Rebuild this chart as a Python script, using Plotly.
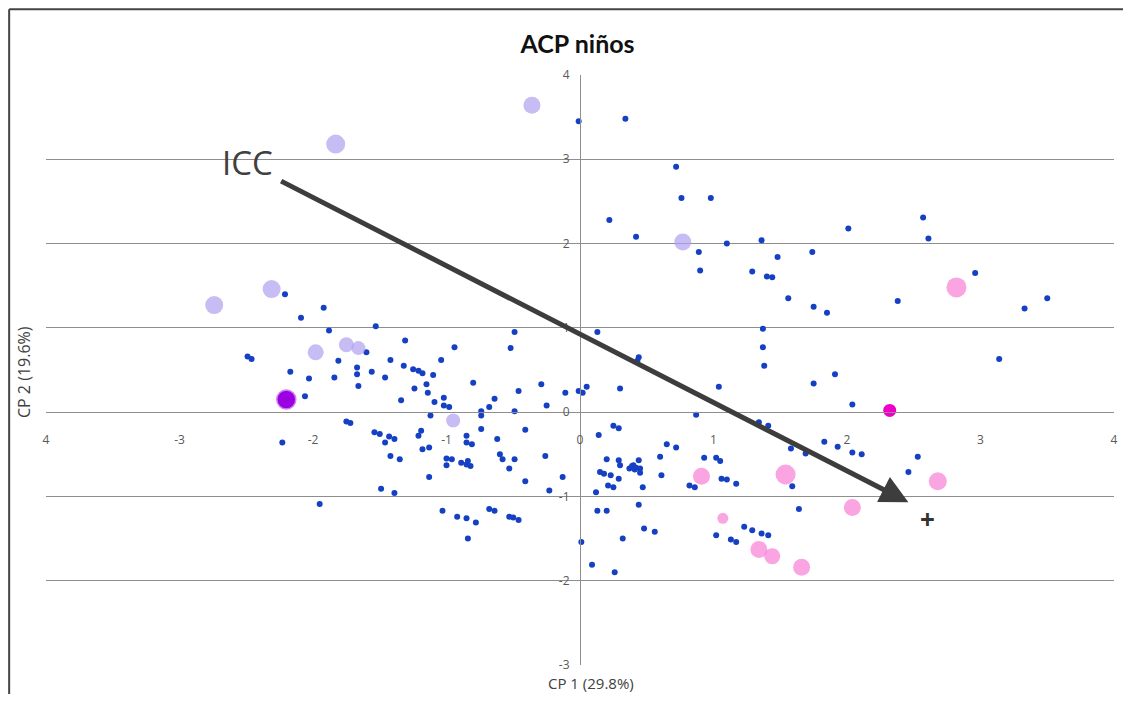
import plotly.graph_objects as go

# ---------------- data ----------------
blue_x = [-0.01, 0.34, 0.72, 0.76, 0.98, 0.22, 0.42, 0.89, 0.90, 1.10, 1.36, 1.29, 1.40, 1.44, 1.48, 1.74, 2.01, 1.56, 1.75, 1.85,
          2.38, 2.57, 2.61, 2.96, 3.33, 3.50, 1.37, 1.37, 0.13, 0.44, 0.43, 3.14,
          -2.21, -1.92, -2.09, -1.88, -1.53, -1.31, -0.94, -0.52, -0.49, -2.49, -2.46, -1.60, -2.17, -1.81, -2.03, -1.84,
          -1.67, -1.67, -1.56, -1.66, -1.42, -1.46, -1.32, -2.06, -1.34, -1.24, -1.04, -1.25, -1.21, -1.18, -1.10, -0.80,
          -1.15, -1.14, -0.29, -0.46, -0.11, -0.01, 0.02, 0.05, -1.09, -1.02, -1.02, -0.98, -0.64, -0.68, -0.74, -0.74,
          -0.49, -0.25, -1.12,
          -1.75, -1.72, -1.54, -1.50, -1.43, -1.39, -1.46, -1.42, -1.35, -1.49, -1.39, -1.95, -2.23, -1.19, -1.21, -1.18,
          -1.13, -0.85, -0.85, -0.81, -0.74, -0.62, -0.41, -1.00, -0.96, -1.00, -0.89, -0.85, -0.84, -0.82, -0.60, -0.58,
          -0.49, -0.53, -0.26, -1.13, -0.41, -0.13, -0.23, -1.03, -0.92, -0.85, -0.78, -0.68, -0.64, -0.53, -0.50, -0.46,
          -0.84,
          0.01, 0.30, 1.04, 0.87, 0.25, 0.29, 0.14, 0.65, 0.72, 0.20, 0.29, 0.30, 0.44, 0.60, 0.93, 1.02, 1.05, 0.15,
          0.18, 0.23, 0.29, 0.39, 0.40, 0.42, 0.37, 0.41, 0.45, 0.45, 0.61, 0.82, 0.86, 0.21, 0.25, 0.47, 0.12, 0.13,
          0.20, 0.44, 0.48, 0.56, 0.32, 0.09, 0.26, 1.02, 1.38, 1.75, 1.91, 2.04, 1.34, 1.41, 1.83, 1.93, 1.58, 1.69,
          2.04, 2.11, 1.06, 1.10, 1.17, 1.59, 2.46, 1.64, 1.23, 1.29, 1.36, 1.41, 1.13, 1.17, 2.53]
blue_y = [3.45, 3.48, 2.91, 2.54, 2.54, 2.28, 2.08, 1.90, 1.68, 2.00, 2.04, 1.67, 1.61, 1.60, 1.84, 1.90, 2.18, 1.35, 1.25, 1.18,
          1.32, 2.31, 2.06, 1.65, 1.23, 1.35, 0.99, 0.77, 0.95, 0.65, 0.61, 0.63,
          1.40, 1.24, 1.12, 0.97, 1.02, 0.85, 0.77, 0.76, 0.95, 0.66, 0.63, 0.71, 0.48, 0.61, 0.40, 0.41,
          0.53, 0.45, 0.48, 0.31, 0.62, 0.41, 0.55, 0.19, 0.14, 0.28, 0.62, 0.51, 0.49, 0.46, 0.44, 0.35,
          0.33, 0.23, 0.33, 0.25, 0.23, 0.25, 0.23, 0.30, 0.12, 0.17, 0.08, 0.06, 0.16, 0.06, 0.01, -0.04,
          0.01, 0.08, -0.04,
          -0.11, -0.13, -0.24, -0.26, -0.29, -0.32, -0.36, -0.52, -0.56, -0.91, -0.96, -1.09, -0.36, -0.22, -0.28, -0.44,
          -0.42, -0.28, -0.36, -0.38, -0.20, -0.32, -0.21, -0.55, -0.56, -0.63, -0.60, -0.62, -0.58, -0.64, -0.50, -0.56,
          -0.56, -0.67, -0.52, -0.77, -0.82, -0.77, -0.93, -1.17, -1.24, -1.26, -1.31, -1.15, -1.17, -1.24, -1.25, -1.28,
          -1.50,
          -1.54, 0.28, 0.30, -0.03, -0.16, -0.19, -0.27, -0.38, -0.42, -0.56, -0.57, -0.63, -0.57, -0.53, -0.54, -0.54, -0.58, -0.71,
          -0.73, -0.75, -0.79, -0.64, -0.63, -0.66, -0.67, -0.68, -0.67, -0.72, -0.75, -0.87, -0.89, -0.87, -0.89, -0.89, -0.95, -1.17,
          -1.17, -1.10, -1.38, -1.42, -1.50, -1.81, -1.90, -1.46, 0.55, 0.34, 0.45, 0.09, -0.12, -0.16, -0.35, -0.41, -0.43, -0.49,
          -0.48, -0.50, -0.79, -0.80, -0.85, -0.88, -0.71, -1.15, -1.36, -1.40, -1.44, -1.46, -1.51, -1.54, -0.53]

lav_x = [-2.74, -2.31, -1.83, -0.36, -1.98, -1.75, -1.66, -0.95, 0.77]
lav_y = [1.27, 1.46, 3.18, 3.64, 0.71, 0.80, 0.76, -0.10, 2.02]
lav_size = [18, 18, 19, 17, 16, 15, 14, 14, 17]

pink_x = [2.82, 0.91, 1.54, 2.68, 2.04, 1.07, 1.34, 1.44, 1.66]
pink_y = [1.48, -0.76, -0.74, -0.82, -1.13, -1.26, -1.63, -1.71, -1.84]
pink_size = [20, 17, 20, 18, 17, 11, 17, 16, 17]

purple_x = [-2.20]
purple_y = [0.15]
magenta_x = [2.32]
magenta_y = [0.02]

arrow_start = (-2.25, 2.75)
arrow_end = (2.46, -1.07)
icc_pos = (-2.49, 2.96)
plus_pos = (2.60, -1.27)

x_ticks = [-4, -3, -2, -1, 0, 1, 2, 3, 4]
x_ticktext = ["4", "-3", "-2", "-1", "0", "1", "2", "3", "4"]
y_ticks = [-3, -2, -1, 0, 1, 2, 3, 4]
y_ticktext = ["-3", "-2", "-1", "0", "1", "2", "3", "4"]

# ---------------- figure ----------------
fig = go.Figure()

fig.add_trace(go.Scatter(x=blue_x, y=blue_y, mode="markers",
                         marker=dict(color="#1640c4", size=6, line=dict(width=0)),
                         showlegend=False, hoverinfo="x+y"))
fig.add_trace(go.Scatter(x=lav_x, y=lav_y, mode="markers",
                         marker=dict(color="#b1a0f0", size=lav_size, line=dict(width=0)),
                         showlegend=False))
fig.add_trace(go.Scatter(x=pink_x, y=pink_y, mode="markers",
                         marker=dict(color="#f87fd4", size=pink_size, line=dict(width=0)),
                         showlegend=False))
fig.add_trace(go.Scatter(x=purple_x, y=purple_y, mode="markers",
                         marker=dict(color="#9a00e2", size=19, line=dict(width=1.5, color="#d27cf0")),
                         showlegend=False))
fig.add_trace(go.Scatter(x=magenta_x, y=magenta_y, mode="markers",
                         marker=dict(color="#ef00c8", size=13, line=dict(width=0)),
                         showlegend=False))

grid_col = "#8e8e8e"
tick_font = dict(family="Open Sans, Arial, sans-serif", size=12, color="#595959")

# the page body adds an 8px offset; the figure is sized/margined to compensate
fig.update_layout(
    width=1115, height=686,
    paper_bgcolor="white", plot_bgcolor="white",
    margin=dict(l=38, r=5, t=67, b=29),
    title=dict(text="<b>ACP niños</b>", x=0.4977, xref="paper", xanchor="center",
               y=1 - 36 / 686, yref="container", yanchor="middle",
               font=dict(family="Lato, Open Sans, sans-serif", size=25, color="#111111")),
    xaxis=dict(range=[-4, 4], anchor="free", position=3 / 7,
               tickvals=x_ticks, ticktext=x_ticktext, ticks="",
               showgrid=False, zeroline=False, showline=True, linecolor=grid_col, linewidth=1,
               tickfont=tick_font, ticklabelstandoff=16, fixedrange=True),
    yaxis=dict(range=[-3, 4], anchor="free", position=0.5,
               tickvals=y_ticks, ticktext=y_ticktext, ticks="",
               showgrid=True, gridcolor=grid_col, gridwidth=1, zeroline=False,
               showline=True, linecolor=grid_col, linewidth=1,
               tickfont=tick_font, ticklabelstandoff=8, fixedrange=True),
)

# outer chart border (left and top)
fig.add_shape(type="line", xref="paper", yref="paper", x0=-0.0345, x1=1.01, y0=1.1115, y1=1.1115,
              line=dict(color="#444444", width=2))
fig.add_shape(type="line", xref="paper", yref="paper", x0=-0.0345, x1=-0.0345, y0=-0.06, y1=1.1115,
              line=dict(color="#444444", width=2))

# axis titles
fig.add_annotation(text="CP 1 (29.8%)", xref="paper", yref="paper", x=0.51, y=-0.031,
                   xanchor="center", yanchor="middle",
                   showarrow=False, font=dict(family="Open Sans, sans-serif", size=15, color="#404040"))
fig.add_annotation(text="CP 2 (19.6%)", xref="paper", yref="paper", x=-0.020, y=0.496, textangle=-90,
                   xanchor="center", yanchor="middle",
                   showarrow=False, font=dict(family="Open Sans, sans-serif", size=16, color="#404040"))

# ICC arrow
fig.add_annotation(x=arrow_end[0], y=arrow_end[1], ax=arrow_start[0], ay=arrow_start[1],
                   xref="x", yref="y", axref="x", ayref="y", text="", showarrow=True,
                   arrowhead=2, arrowsize=1.12, arrowwidth=5, arrowcolor="#3d3d3d")
fig.add_annotation(x=icc_pos[0], y=icc_pos[1], xref="x", yref="y", text="ICC", showarrow=False,
                   font=dict(family="Open Sans, sans-serif", size=33, color="#404040"))
fig.add_annotation(x=plus_pos[0], y=plus_pos[1], xref="x", yref="y", text="<b>+</b>", showarrow=False,
                   font=dict(family="Open Sans, sans-serif", size=26, color="#333333"))

fig.write_html("out.html")
